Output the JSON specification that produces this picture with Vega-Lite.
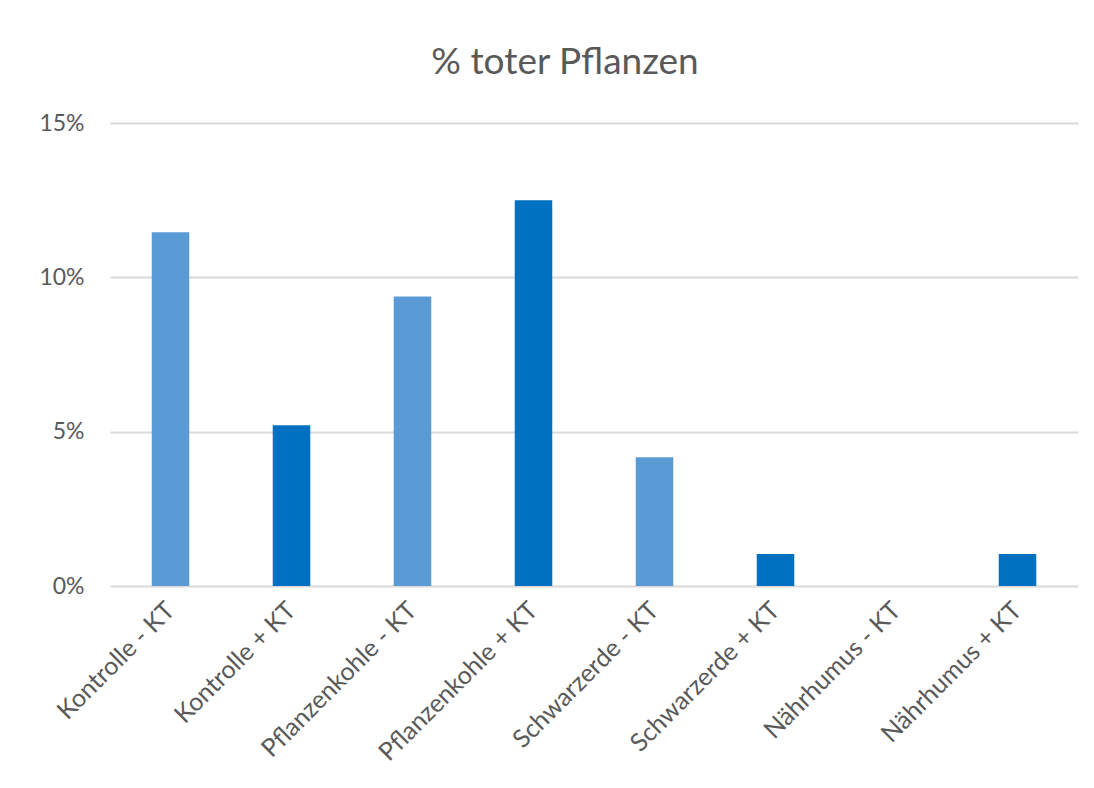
{
  "$schema": "https://vega.github.io/schema/vega-lite/v6.json",
  "autosize": "none",
  "width": 968,
  "height": 463,
  "padding": {"left": 110, "top": 123, "right": 16, "bottom": 202},
  "background": "white",
  "title": {
    "text": "% toter Pflanzen",
    "font": "Lato",
    "fontSize": 37,
    "fontWeight": "normal",
    "color": "#595959",
    "anchor": "middle",
    "dx": -29,
    "offset": 1,
    "baseline": "alphabetic"
  },
  "data": {
    "values": [
      {"Variante": "Kontrolle - KT", "KT": "- KT", "Anteil": 0.1146},
      {"Variante": "Kontrolle + KT", "KT": "+ KT", "Anteil": 0.0521},
      {"Variante": "Pflanzenkohle - KT", "KT": "- KT", "Anteil": 0.0938},
      {"Variante": "Pflanzenkohle + KT", "KT": "+ KT", "Anteil": 0.125},
      {"Variante": "Schwarzerde - KT", "KT": "- KT", "Anteil": 0.0417},
      {"Variante": "Schwarzerde + KT", "KT": "+ KT", "Anteil": 0.0104},
      {"Variante": "Nährhumus - KT", "KT": "- KT", "Anteil": 0},
      {"Variante": "Nährhumus + KT", "KT": "+ KT", "Anteil": 0.0104}
    ]
  },
  "mark": {"type": "bar"},
  "encoding": {
    "x": {
      "field": "Variante",
      "type": "nominal",
      "sort": null,
      "scale": {"paddingInner": 0.69, "paddingOuter": 0.345},
      "axis": {
        "title": null,
        "labelAngle": -45,
        "labelAlign": "right",
        "labelBaseline": "middle",
        "labelFont": "Lato",
        "labelFontSize": 25,
        "labelColor": "#595959",
        "labelPadding": 20,
        "labelLimit": 0,
        "domain": false,
        "ticks": false,
        "grid": false
      }
    },
    "y": {
      "field": "Anteil",
      "type": "quantitative",
      "scale": {"domain": [0, 0.15], "nice": false},
      "axis": {
        "title": null,
        "values": [0, 0.05, 0.1, 0.15],
        "format": ".0%",
        "labelFont": "Lato",
        "labelFontSize": 23,
        "labelColor": "#595959",
        "labelPadding": 26,
        "domain": false,
        "ticks": false,
        "grid": true,
        "gridColor": "#D9D9D9",
        "gridWidth": 2
      }
    },
    "color": {
      "field": "KT",
      "type": "nominal",
      "scale": {"domain": ["- KT", "+ KT"], "range": ["#5B9BD5", "#0070C0"]},
      "legend": null
    }
  },
  "config": {"view": {"stroke": null}}
}
